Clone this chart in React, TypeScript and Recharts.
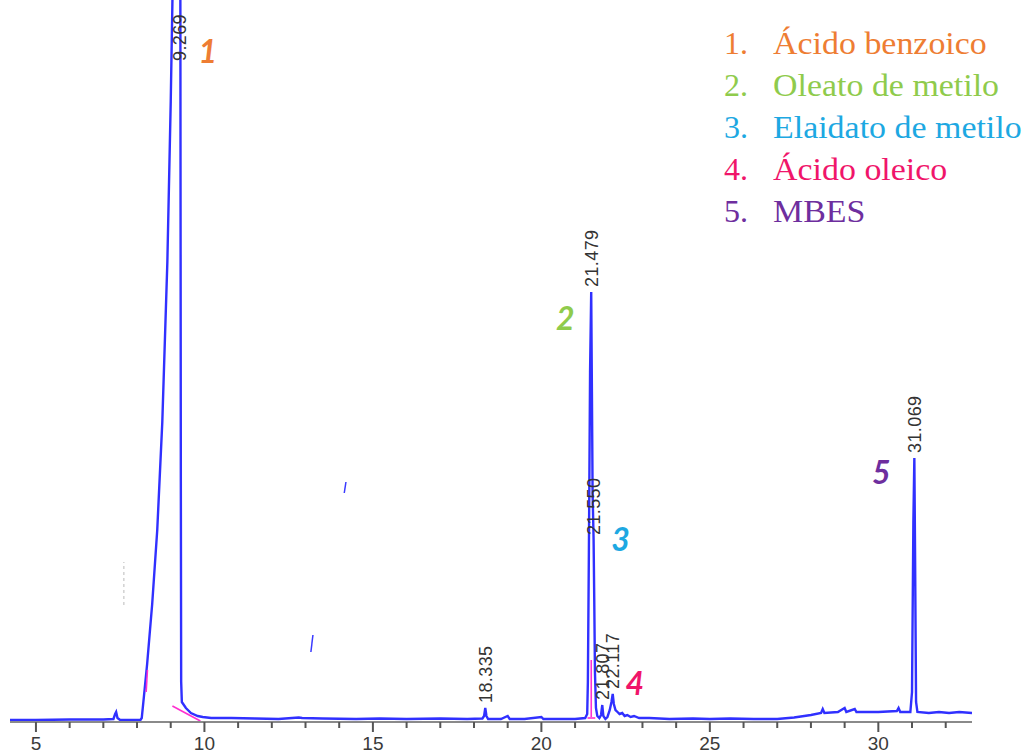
import { ComposedChart, Line, XAxis, YAxis, LabelList, ReferenceLine } from "recharts"

// chromatogram trace: retention time (min) vs detector signal
const trace = [
  { t: 4.23, v: 2 }, { t: 5.0, v: 2 }, { t: 6.0, v: 2.5 }, { t: 7.0, v: 2.5 },
  { t: 7.3, v: 3 }, { t: 7.35, v: 8 }, { t: 7.38, v: 10 }, { t: 7.42, v: 4 },
  { t: 7.5, v: 2 }, { t: 7.9, v: 2 }, { t: 8.1, v: 2 }, { t: 8.14, v: 4 },
  { t: 8.2, v: 24 }, { t: 8.3, v: 58 }, { t: 8.45, v: 118 }, { t: 8.6, v: 192 },
  { t: 8.75, v: 300 }, { t: 8.9, v: 460 }, { t: 9.0, v: 620 }, { t: 9.1, v: 820 },
  { t: 9.2, v: 1060 }, { t: 9.269, v: 1250 }, { t: 9.285, v: 760 }, { t: 9.3, v: 240 },
  { t: 9.31, v: 40 }, { t: 9.33, v: 20 }, { t: 9.45, v: 14 }, { t: 9.6, v: 9 },
  { t: 9.8, v: 6 }, { t: 9.95, v: 5 }, { t: 10.2, v: 4 }, { t: 10.8, v: 4 },
  { t: 11.5, v: 3.5 }, { t: 12.2, v: 3 }, { t: 12.8, v: 4.5 }, { t: 12.9, v: 4 },
  { t: 13.5, v: 3.5 }, { t: 14.5, v: 3 }, { t: 15.2, v: 3.5 }, { t: 16.0, v: 3 },
  { t: 17.0, v: 3.5 }, { t: 17.8, v: 3 }, { t: 18.25, v: 3.5 }, { t: 18.3, v: 6 },
  { t: 18.335, v: 14 }, { t: 18.37, v: 6 }, { t: 18.42, v: 3 }, { t: 18.8, v: 3 },
  { t: 19.0, v: 6 }, { t: 19.06, v: 3 }, { t: 19.5, v: 3 }, { t: 20.0, v: 5 },
  { t: 20.06, v: 3 }, { t: 20.6, v: 3 }, { t: 21.0, v: 3 }, { t: 21.3, v: 4 },
  { t: 21.36, v: 8 }, { t: 21.38, v: 40 }, { t: 21.41, v: 170 }, { t: 21.445, v: 350 },
  { t: 21.479, v: 430 }, { t: 21.5, v: 330 }, { t: 21.52, v: 230 }, { t: 21.55, v: 182 },
  { t: 21.57, v: 120 }, { t: 21.59, v: 50 }, { t: 21.62, v: 14 }, { t: 21.66, v: 6 },
  { t: 21.72, v: 4 }, { t: 21.77, v: 7 }, { t: 21.807, v: 17 }, { t: 21.84, v: 6 },
  { t: 21.9, v: 3 }, { t: 21.96, v: 5 }, { t: 22.03, v: 12 }, { t: 22.08, v: 20 },
  { t: 22.117, v: 28 }, { t: 22.15, v: 18 }, { t: 22.2, v: 12 }, { t: 22.26, v: 10 },
  { t: 22.32, v: 8 }, { t: 22.4, v: 9 }, { t: 22.47, v: 6 }, { t: 22.55, v: 7 },
  { t: 22.65, v: 5 }, { t: 22.75, v: 6 }, { t: 22.9, v: 4 }, { t: 23.2, v: 4 },
  { t: 23.8, v: 3 }, { t: 24.5, v: 3.5 }, { t: 25.0, v: 3 }, { t: 25.6, v: 3.5 },
  { t: 26.3, v: 3 }, { t: 27.0, v: 3 }, { t: 27.5, v: 4.5 }, { t: 28.0, v: 7 },
  { t: 28.3, v: 9 }, { t: 28.35, v: 13 }, { t: 28.4, v: 9 }, { t: 28.8, v: 10 },
  { t: 29.0, v: 14 }, { t: 29.05, v: 10 }, { t: 29.3, v: 13 }, { t: 29.35, v: 10 },
  { t: 30.0, v: 10 }, { t: 30.55, v: 11 }, { t: 30.6, v: 14 }, { t: 30.65, v: 10 },
  { t: 30.95, v: 10 }, { t: 31.0, v: 30 }, { t: 31.04, v: 200 }, { t: 31.069, v: 264 },
  { t: 31.09, v: 170 }, { t: 31.12, v: 20 }, { t: 31.16, v: 10 }, { t: 31.5, v: 9 },
  { t: 31.8, v: 10 }, { t: 32.1, v: 9 }, { t: 32.4, v: 10 }, { t: 32.78, v: 9 },
]

// integrated peaks: retention time and compound number (0 = unassigned)
const peakTimes = [9.269, 18.335, 21.479, 21.55, 21.807, 22.117, 31.069]
const peakTags = [1, 0, 2, 3, 0, 4, 5]

const compounds = [
  "Ácido benzoico",
  "Oleato de metilo",
  "Elaidato de metilo",
  "Ácido oleico",
  "MBES",
]

const xTicks = [5, 6, 7, 8, 9, 10, 11, 12, 13, 14, 15, 16, 17, 18, 19, 20, 21, 22, 23, 24, 25, 26, 27, 28, 29, 30, 31, 32]

// integration baselines / drop lines
const integration = [
  [{ t: 9.05, v: 16 }, { t: 9.88, v: 1 }],
  [{ t: 8.27, v: 30 }, { t: 8.31, v: 52 }],
  [{ t: 21.48, v: 5 }, { t: 21.48, v: 62 }],
  [{ t: 21.37, v: 4 }, { t: 21.6, v: 4 }],
]

// stray event marks from the integrator
const eventMarks = [
  [{ x: 14.2, y: 240 }, { x: 14.15, y: 229 }],
  [{ x: 13.22, y: 87 }, { x: 13.16, y: 70 }],
]

const TAG_COLORS = ["#EE7D33", "#8FCB4C", "#1DA8E2", "#F0156A", "#6E2E9E"]
// where each compound number sits relative to its peak label
const TAG_OFFSET: Record<number, [number, number]> = {
  1: [28, -3],
  2: [-26, 38],
  3: [27, 11],
  4: [22, 1],
  5: [-33, 26],
}

const Y_MAX = 722
const LABEL_CAP = 656

const peakMarks = peakTimes.map((t, i) => {
  const pt = trace.find((p) => p.t === t)
  const v = pt ? pt.v : 0
  return { t, v, tag: peakTags[i], anchor: Math.min(v, LABEL_CAP) }
})

function AxisTick(props: any) {
  const { x, y, payload } = props
  const major = payload.value % 5 === 0
  return (
    <g>
      <line x1={x} x2={x} y1={y} y2={y + (major ? 10 : 6)} stroke="#555" strokeWidth={2} />
      {major && (
        <text
          x={x}
          y={y + 28}
          textAnchor="middle"
          fontSize={19}
          fill="#3a3a3a"
          fontFamily="'Liberation Sans', Arial, sans-serif"
        >
          {payload.value}
        </text>
      )}
    </g>
  )
}

function PeakLabel(props: any) {
  const { x, y, value, index } = props
  const mark = peakMarks[index]
  const by = y - 5
  const off = TAG_OFFSET[mark.tag]
  return (
    <g>
      <text
        x={x}
        y={by}
        dy="0.35em"
        transform={`rotate(-90 ${x} ${by})`}
        textAnchor="start"
        fontSize={18}
        letterSpacing={0.4}
        fill="#333"
        fontFamily="'Liberation Sans', Arial, sans-serif"
      >
        {Number(value).toFixed(3)}
      </text>
      {mark.tag > 0 && off && (
        <text
          x={x + off[0]}
          y={y + off[1]}
          textAnchor="middle"
          fontSize={32}
          fontWeight={700}
          fontStyle="italic"
          fill={TAG_COLORS[mark.tag - 1]}
          fontFamily="Lato, 'Open Sans', sans-serif"
        >
          {mark.tag}
        </text>
      )}
    </g>
  )
}

export default function App() {
  return (
    <div style={{ position: "absolute", left: 0, top: 0, width: 1032, height: 754, background: "#fff" }}>
      <ComposedChart
        width={1032}
        height={754}
        data={trace}
        margin={{ top: 0, right: 60, bottom: 0, left: 10 }}
      >
        <XAxis
          dataKey="t"
          type="number"
          domain={[4.23, 32.78]}
          allowDataOverflow
          ticks={xTicks}
          interval={0}
          height={32}
          axisLine={{ stroke: "#8a8a8a", strokeWidth: 2 }}
          tickLine={false}
          tickSize={0}
          tickMargin={0}
          tick={<AxisTick />}
        />
        <YAxis hide domain={[0, Y_MAX]} allowDataOverflow />

        {eventMarks.map((seg, i) => (
          <ReferenceLine key={`ev${i}`} segment={seg} stroke="#3a3aff" strokeWidth={1.5} />
        ))}
        <ReferenceLine
          segment={[{ x: 7.61, y: 117 }, { x: 7.61, y: 160 }]}
          stroke="#bbb"
          strokeDasharray="3 3"
        />

        <Line
          dataKey="v"
          type="linear"
          stroke="#3030ff"
          strokeWidth={2.4}
          dot={false}
          activeDot={false}
          isAnimationActive={false}
        />

        {integration.map((seg, i) => (
          <Line
            key={`int${i}`}
            data={seg}
            dataKey="v"
            type="linear"
            stroke="#ff30d0"
            strokeWidth={1.6}
            dot={false}
            activeDot={false}
            isAnimationActive={false}
          />
        ))}

        <Line
          data={peakMarks}
          dataKey="anchor"
          stroke="none"
          dot={false}
          activeDot={false}
          isAnimationActive={false}
        >
          <LabelList dataKey="t" content={PeakLabel} />
        </Line>
      </ComposedChart>

      <div
        style={{
          position: "absolute",
          top: 22,
          left: 724,
          fontFamily: "'Liberation Serif', 'Times New Roman', serif",
          fontSize: 32,
          lineHeight: "42px",
          whiteSpace: "nowrap",
        }}
      >
        {compounds.map((name, i) => (
          <div key={name} style={{ display: "flex", color: TAG_COLORS[i] }}>
            <span style={{ width: 49 }}>{i + 1}.</span>
            <span style={{ display: "inline-block", transform: "scaleX(1.06)", transformOrigin: "left" }}>
              {name}
            </span>
          </div>
        ))}
      </div>
    </div>
  )
}
